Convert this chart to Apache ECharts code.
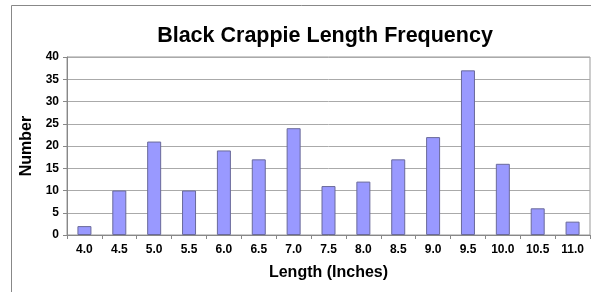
<!DOCTYPE html>
<html><head><meta charset="utf-8">
<script src="https://cdn.jsdelivr.net/npm/echarts@6/dist/echarts.min.js"></script>
<style>html,body{margin:0;padding:0;background:#fff}#c{width:591px;height:292px}</style>
</head><body><div id="c"></div>
<script>
const categories = ['4.0','4.5','5.0','5.5','6.0','6.5','7.0','7.5','8.0','8.5','9.0','9.5','10.0','10.5','11.0'];
const counts = [2,10,21,10,19,17,24,11,12,17,22,37,16,6,3];
const yTicks = {min:0, max:40, interval:5};
const F = 'Liberation Sans, Arial, sans-serif';
const chart = echarts.init(document.getElementById('c'));
chart.setOption({
  animation:false,
  backgroundColor:'#fff',
  title:{text:'Black Crappie Length Frequency', left:320, textAlign:'center', top:20,
    textStyle:{fontFamily:F, fontWeight:'bold', fontSize:21.5, color:'#000'}},
  graphic:[{type:'rect', shape:{x:11.5,y:5.5,width:700,height:400}, style:{fill:'none', stroke:'#888', lineWidth:1}, silent:true}],
  grid:{left:67, right:1, top:57, bottom:57, show:true, borderColor:'#999', borderWidth:1},
  xAxis:{type:'category', data:categories,
    name:'Length (Inches)', nameLocation:'middle', nameGap:30,
    nameTextStyle:{fontFamily:F, fontWeight:'bold', fontSize:16, color:'#000'},
    axisLine:{lineStyle:{color:'#888'}},
    axisTick:{show:true, alignWithLabel:false, length:4, lineStyle:{color:'#888'}},
    axisLabel:{fontFamily:F, fontWeight:'bold', fontSize:12, color:'#000', margin:9}},
  yAxis:{type:'value', min:yTicks.min, max:yTicks.max, interval:yTicks.interval,
    name:'Number', nameLocation:'middle', nameGap:31,
    nameTextStyle:{fontFamily:F, fontWeight:'bold', fontSize:16, color:'#000'},
    axisLine:{show:true, lineStyle:{color:'#888'}},
    axisTick:{show:true, length:4, lineStyle:{color:'#888'}},
    splitLine:{lineStyle:{color:'#aaa'}},
    axisLabel:{fontFamily:F, fontWeight:'bold', fontSize:12, color:'#000', margin:8}},
  series:[{type:'bar', data:counts, barWidth:14,
    itemStyle:{color:'#9999ff', borderColor:'#6a6a9a', borderWidth:1}}]
});
</script></body></html>
